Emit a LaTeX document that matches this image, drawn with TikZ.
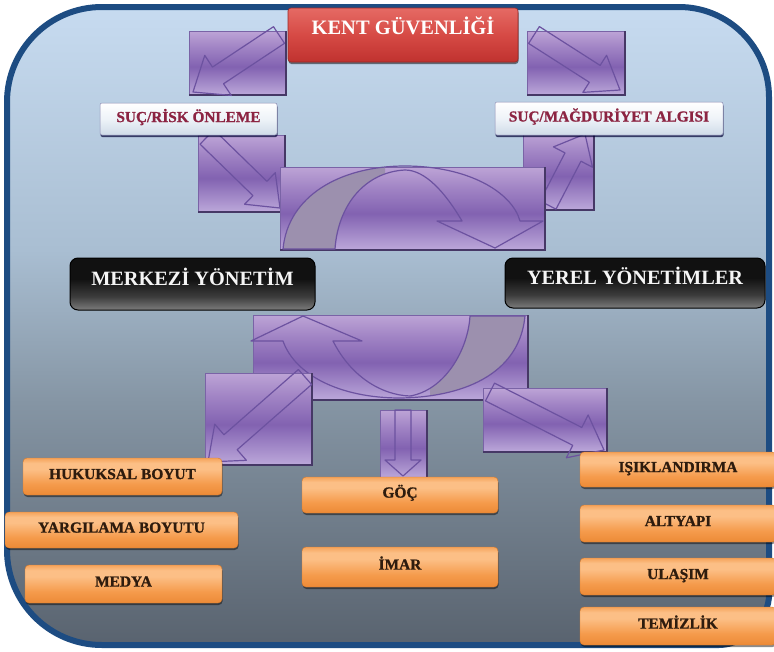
\documentclass[tikz,border=0pt]{standalone}
\usepackage{fontspec}
\setmainfont{Liberation Serif}
\newfontfamily\heavyserif[FakeBold=1.1]{Liberation Serif}
\usetikzlibrary{calc,shadows}
\definecolor{frameblue}{HTML}{1D4C82}
\definecolor{bgA}{HTML}{59636F}
\definecolor{bgB}{HTML}{8595A4}
\definecolor{bgC}{HTML}{A9BED2}
\definecolor{bgD}{HTML}{C7DBF0}
\definecolor{puA}{HTML}{BCA8DA}
\definecolor{puB}{HTML}{8262B1}
\definecolor{puC}{HTML}{A083C4}
\definecolor{puD}{HTML}{BDA4D6}
\definecolor{puedge}{HTML}{7A63A6}
\definecolor{pushadow}{HTML}{463866}
\definecolor{arrcol}{HTML}{6C52A0}
\definecolor{greyband}{HTML}{9C90AE}
\definecolor{orA}{HTML}{EC8A36}
\definecolor{orB}{HTML}{F59B4C}
\definecolor{orC}{HTML}{FCBF86}
\definecolor{orD}{HTML}{F5A35A}
\definecolor{orline}{HTML}{D97A2A}
\definecolor{otext}{HTML}{2E1C0E}
\definecolor{rdA}{HTML}{C0322F}
\definecolor{rdB}{HTML}{D64A45}
\definecolor{rdC}{HTML}{E56A64}
\definecolor{wtA}{HTML}{CFDBE8}
\definecolor{wtB}{HTML}{EEF3F8}
\definecolor{stext}{HTML}{8C2442}
\definecolor{bkA}{HTML}{7C7C7C}
\definecolor{bkB}{HTML}{3C3C3C}
\definecolor{bkC}{HTML}{111111}
\pgfdeclareverticalshading{bgsh}{100bp}{color(0bp)=(bgA); color(25bp)=(bgA); color(44bp)=(bgB); color(56bp)=(bgC); color(75bp)=(bgD); color(100bp)=(bgD)}
\pgfdeclareverticalshading{pursh}{100bp}{color(0bp)=(puA); color(25bp)=(puA); color(47bp)=(puB); color(62bp)=(puC); color(75bp)=(puD); color(100bp)=(puD)}
\pgfdeclareverticalshading{orsh}{100bp}{color(0bp)=(orA); color(25bp)=(orA); color(40bp)=(orB); color(60bp)=(orC); color(68bp)=(orC); color(75bp)=(orD); color(100bp)=(orD)}
\pgfdeclareverticalshading{rdsh}{100bp}{color(0bp)=(rdA); color(25bp)=(rdA); color(50bp)=(rdB); color(75bp)=(rdC); color(100bp)=(rdC)}
\pgfdeclareverticalshading{wtsh}{100bp}{color(0bp)=(wtA); color(25bp)=(wtA); color(50bp)=(wtB); color(75bp)=(white); color(100bp)=(white)}
\pgfdeclareverticalshading{bksh}{100bp}{color(0bp)=(bkA); color(25bp)=(bkA); color(38bp)=(bkB); color(55bp)=(bkC); color(75bp)=(bkC); color(100bp)=(bkC)}
\newcommand\ofont{\heavyserif\bfseries\fontsize{15.4}{17}\selectfont}
\newcommand\sfontx{\heavyserif\bfseries\fontsize{15.3}{17}\selectfont}
\newcommand\bfontx{\bfseries\fontsize{20.3}{22}\selectfont}
\newcommand\kfontx{\bfseries\fontsize{20.5}{23}\selectfont}
\newcommand\prect[4]{%
  \shade[shading=pursh] (#1,#2) rectangle (#3,#4);
  \draw[puedge, line width=0.6pt] (#1,#2) rectangle (#3,#4);
  \draw[pushadow, line width=1.6pt] (#1,#4) -- (#3,#4) -- (#3,#2);}
\newcommand\blkarrow[5]{%
  \coordinate (bS) at #1; \coordinate (bE) at #2;
  \coordinate (bN) at ($(bE)!#5!(bS)$);
  \draw[arrline] ($(bS)!#3!90:(bE)$) -- ($(bN)!#3!90:(bE)$) -- ($(bN)!#4!90:(bE)$)
    -- (bE) -- ($(bN)!#4!-90:(bE)$) -- ($(bN)!#3!-90:(bE)$) -- ($(bS)!#3!-90:(bE)$) -- cycle;}
\tikzset{
  arrline/.style={draw=arrcol, line width=1.2pt, line join=round},
  obox/.style={shade, shading=orsh, draw=orline, line width=0.4pt, rounded corners=4pt,
    inner sep=0pt, font=\ofont, text=otext, text height=6pt, text depth=0.8pt,
    drop shadow={shadow xshift=0.6pt, shadow yshift=-2pt, opacity=0.45, fill=black}},
  sbox/.style={shade, shading=wtsh, draw=white!60!blue!40!gray, line width=0.5pt, rounded corners=2pt,
    inner sep=0pt, font=\sfontx, text=stext, text height=7pt, text depth=0.9pt,
    drop shadow={shadow xshift=0.5pt, shadow yshift=-2pt, opacity=0.7, fill=black!80!blue}},
  bbox/.style={shade, shading=bksh, draw=black, line width=1pt, rounded corners=8pt,
    inner sep=0pt, font=\bfontx, text=white!92!gray, text height=10pt, text depth=6.6pt},
  rbox/.style={shade, shading=rdsh, draw=rdA!80!black, line width=0.6pt, rounded corners=3pt,
    inner sep=0pt, font=\kfontx, text=white, text height=7pt, text depth=7.4pt,
    drop shadow={shadow xshift=0.5pt, shadow yshift=-2pt, opacity=0.5, fill=black}},
}
\begin{document}
\begin{tikzpicture}[x=1pt,y=-1pt]
\useasboundingbox (0,0) rectangle (774,651);
\fill[white] (0,0) rectangle (774,651);
% frame
\def\framepath{(7,102) -- (7,550) .. controls (7,602.5) and (49.5,645) .. (102,645)
  -- (719,645) .. controls (746.6,645) and (769,617.4) .. (769,595)
  -- (769,97) .. controls (769,47.3) and (728.7,7) .. (679,7)
  -- (102,7) .. controls (49.5,7) and (7,49.5) .. (7,102) -- cycle}
\shade[shading=bgsh] \framepath;
\draw[frameblue, line width=6pt] \framepath;

% bottom centre curved arrow
\prect{253}{315}{528}{400}
\def\botcurve{(525,316) .. controls (520,370) and (470,397) .. (400,398)
  .. controls (340,398) and (295,375) .. (283,341) -- (251,341) -- (303,316) -- (362,341) -- (333,341)
  .. controls (350,375) and (380,395) .. (410,396) .. controls (445,390) and (468,350) .. (470,316) -- cycle}
\begin{scope}
  \clip (430,310) rectangle (530,402);
  \fill[greyband] \botcurve;
\end{scope}
\draw[arrline] \botcurve;

% lower small rectangles
\prect{205}{373}{312}{465}
\blkarrow{(305,377)}{(208,462)}{10pt}{24pt}{30pt}
\prect{483}{388}{607}{452}
\blkarrow{(490,392)}{(604,450)}{10pt}{24pt}{30pt}
\prect{380}{410}{427}{478}
\blkarrow{(403,410)}{(403,476)}{8pt}{18pt}{16pt}

% middle rectangles
\prect{198}{135}{285}{212}
\blkarrow{(207,137)}{(280,208)}{10pt}{22pt}{28pt}
\prect{523}{133}{594}{210}
\blkarrow{(548,205)}{(585,134)}{9pt}{22pt}{26pt}

% top centre curved arrow
\prect{280}{167}{545}{250}
\def\topcurve{(283,249) .. controls (288,196) and (340,166) .. (405,166)
  .. controls (468,166) and (512,192) .. (520,221) -- (543,221) -- (495,248) -- (437,221) -- (462,221)
  .. controls (445,192) and (425,170) .. (405,170) .. controls (365,172) and (338,205) .. (335,249) -- cycle}
\begin{scope}
  \clip (278,160) rectangle (385,252);
  \fill[greyband] \topcurve;
\end{scope}
\draw[arrline] \topcurve;

% top rectangles
\prect{189}{31}{286}{95}
\blkarrow{(279,35)}{(193,92)}{10pt}{24pt}{30pt}
\prect{527}{31}{625}{95}
\blkarrow{(534,35)}{(620,90)}{10pt}{22pt}{30pt}

% title and labels
\node[rbox, minimum width=230pt, minimum height=54pt] (kent) at (403,35) {KENT GÜVENLİĞİ};
\node[sbox, minimum width=177pt, minimum height=32pt] (risk) at (188.5,119) {SUÇ/RİSK ÖNLEME};
\node[sbox, minimum width=228pt, minimum height=33pt] (algi) at (609,118.5) {SUÇ/MAĞDURİYET ALGISI};
\node[bbox, minimum width=245pt, minimum height=52pt] (merkez) at (192.5,284) {MERKEZİ YÖNETİM};
\node[bbox, minimum width=260pt, minimum height=50pt] (yerel) at (635,283) {YEREL YÖNETİMLER};

\node[obox, minimum width=199pt, minimum height=37pt] (hukuk) at (122.5,476.5) {HUKUKSAL BOYUT};
\node[obox, minimum width=233pt, minimum height=36pt] (yargi) at (121.5,530) {YARGILAMA BOYUTU};
\node[obox, minimum width=197pt, minimum height=38pt] (medya) at (123.5,584) {MEDYA};
\node[obox, minimum width=196pt, minimum height=36pt] (goc) at (400,495) {GÖÇ};
\node[obox, minimum width=196pt, minimum height=40pt] (imar) at (400,567) {İMAR};
\node[obox, minimum width=196pt, minimum height=35pt] (isik) at (678,469.5) {IŞIKLANDIRMA};
\node[obox, minimum width=196pt, minimum height=37pt] (alty) at (678,523.5) {ALTYAPI};
\node[obox, minimum width=196pt, minimum height=37pt] (ulas) at (678,576.5) {ULAŞIM};
\node[obox, minimum width=196pt, minimum height=38pt] (temiz) at (678,626) {TEMİZLİK};
\end{tikzpicture}
\end{document}
